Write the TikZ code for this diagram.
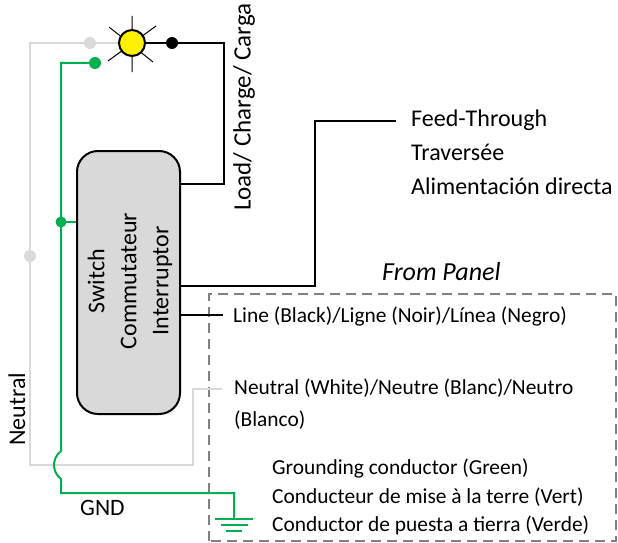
\documentclass[tikz,border=0pt]{standalone}
\usepackage{fontspec}
\setmainfont{Carlito}
\definecolor{gnd}{RGB}{0,176,80}
\definecolor{wire}{RGB}{217,217,217}
\tikzset{
  x=1pt,y=-1pt,
  lbl/.style={font=\fontsize{21.4}{26}\selectfont,anchor=west,inner sep=0pt,text=black},
  lblb/.style={font=\fontsize{24}{28}\selectfont,anchor=west,inner sep=0pt,text=black},
  wblack/.style={draw=black,line width=2pt},
  wgrey/.style={draw=wire,line width=2pt},
  wgreen/.style={draw=gnd,line width=2pt},
  ray/.style={draw=black,line width=1pt},
  dotn/.style={circle,inner sep=0pt,minimum size=12pt},
}
\begin{document}
\begin{tikzpicture}
\useasboundingbox (0,0) rectangle (618,543);
% panel
\draw[draw=black!50,line width=2pt,dash pattern=on 10pt off 6pt] (209,541) -- (209,294) -- (616,294) -- (616,541) -- cycle;
% coordinates
\coordinate (gl) at (30,43);
\coordinate (gb) at (30,465);
\coordinate (gr) at (193,465);
\coordinate (gu) at (193,389);
\coordinate (ge) at (222,389);
\coordinate (gnl) at (61,63);
\coordinate (gj1) at (61,451);
\coordinate (gj2) at (61,479);
\coordinate (gnb) at (61,493);
\coordinate (gnr) at (234,493);
\coordinate (gg) at (234,519);
\coordinate (blr) at (224,43);
\coordinate (blb) at (224,184);
\coordinate (ft1) at (315,286);
\coordinate (ft2) at (315,121);
\coordinate (ft3) at (396,121);
\coordinate (ln) at (223,315);
% switch
\node[draw=black,line width=2pt,fill=wire,rounded corners=21pt,minimum width=103pt,minimum height=263pt,inner sep=0pt] (sw) at (128.5,282.5) {};
\node[rotate=90,align=center,font=\fontsize{24}{32}\selectfont] (swt) at (130,281) {Switch\\Commutateur\\Interruptor};
% lamp
\node[circle,inner sep=0pt,minimum size=26pt] (lampc) at (132,43) {};
\draw[ray] (132,16) -- (132,72) (109,27) -- (153,62) (156,26) -- (108,61);
% grey wire
\draw[wgrey] (lampc.center) -- (gl) -- (gb) -- (gr) -- (gu) -- (ge);
\node[dotn,fill=wire] (d1) at (90,43) {};
\node[dotn,fill=wire] (d2) at (30,256) {};
% black wires
\draw[wblack] (lampc.center) -- (blr) -- (blb) -- (sw.east |- blb);
\node[dotn,fill=black] (d3) at (172,43) {};
\draw[wblack] (sw.east |- ft1) -- (ft1) -- (ft2) -- (ft3);
\draw[wblack] (sw.east |- ln) -- (ln);
% green wire
\node[dotn,fill=gnd] (d4) at (95,63) {};
\draw[wgreen] (d4.center) -- (gnl) -- (gj1) arc[start angle=233,end angle=127,radius=17.5] -- (gnb) -- (gnr) -- (gg);
\node[dotn,minimum size=11pt,fill=gnd] (d5) at (61,222) {};
\draw[wgreen] (d5.center) -- (sw.west |- d5);
% ground
\draw[wgreen] (215,519) -- (253,519) (221,525) -- (248,525) (226,531) -- (242,531);
% lamp on top
\node[circle,draw=black,line width=2pt,fill=yellow,inner sep=0pt,minimum size=26pt] (lamp) at (132,43) {};
% labels
\node[lblb,rotate=90,font=\fontsize{25}{30}\selectfont] (load) at (244,211) {Load/ Charge/ Carga};
\node[lblb,rotate=90] (neu) at (17,446) {Neutral};
\node[lblb,font=\fontsize{23.5}{28}\selectfont] at (80,508) {GND};
\node[lblb] at (411,120) {Feed-Through};
\node[lblb] at (411,152) {Traversée};
\node[lblb] at (411,186) {Alimentación directa};
\node[lblb,font=\fontsize{26}{30}\selectfont\itshape] at (382,272) {From Panel};
\node[lbl] at (233,317) {Line (Black)/Ligne (Noir)/Línea (Negro)};
\node[lbl] at (234,388) {Neutral (White)/Neutre (Blanc)/Neutro};
\node[lbl] at (234,420) {(Blanco)};
\node[lbl] at (272,469) {Grounding conductor (Green)};
\node[lbl] at (272,497) {Conducteur de mise à la terre (Vert)};
\node[lbl] at (272,525) {Conductor de puesta a tierra (Verde)};
\end{tikzpicture}
\end{document}
